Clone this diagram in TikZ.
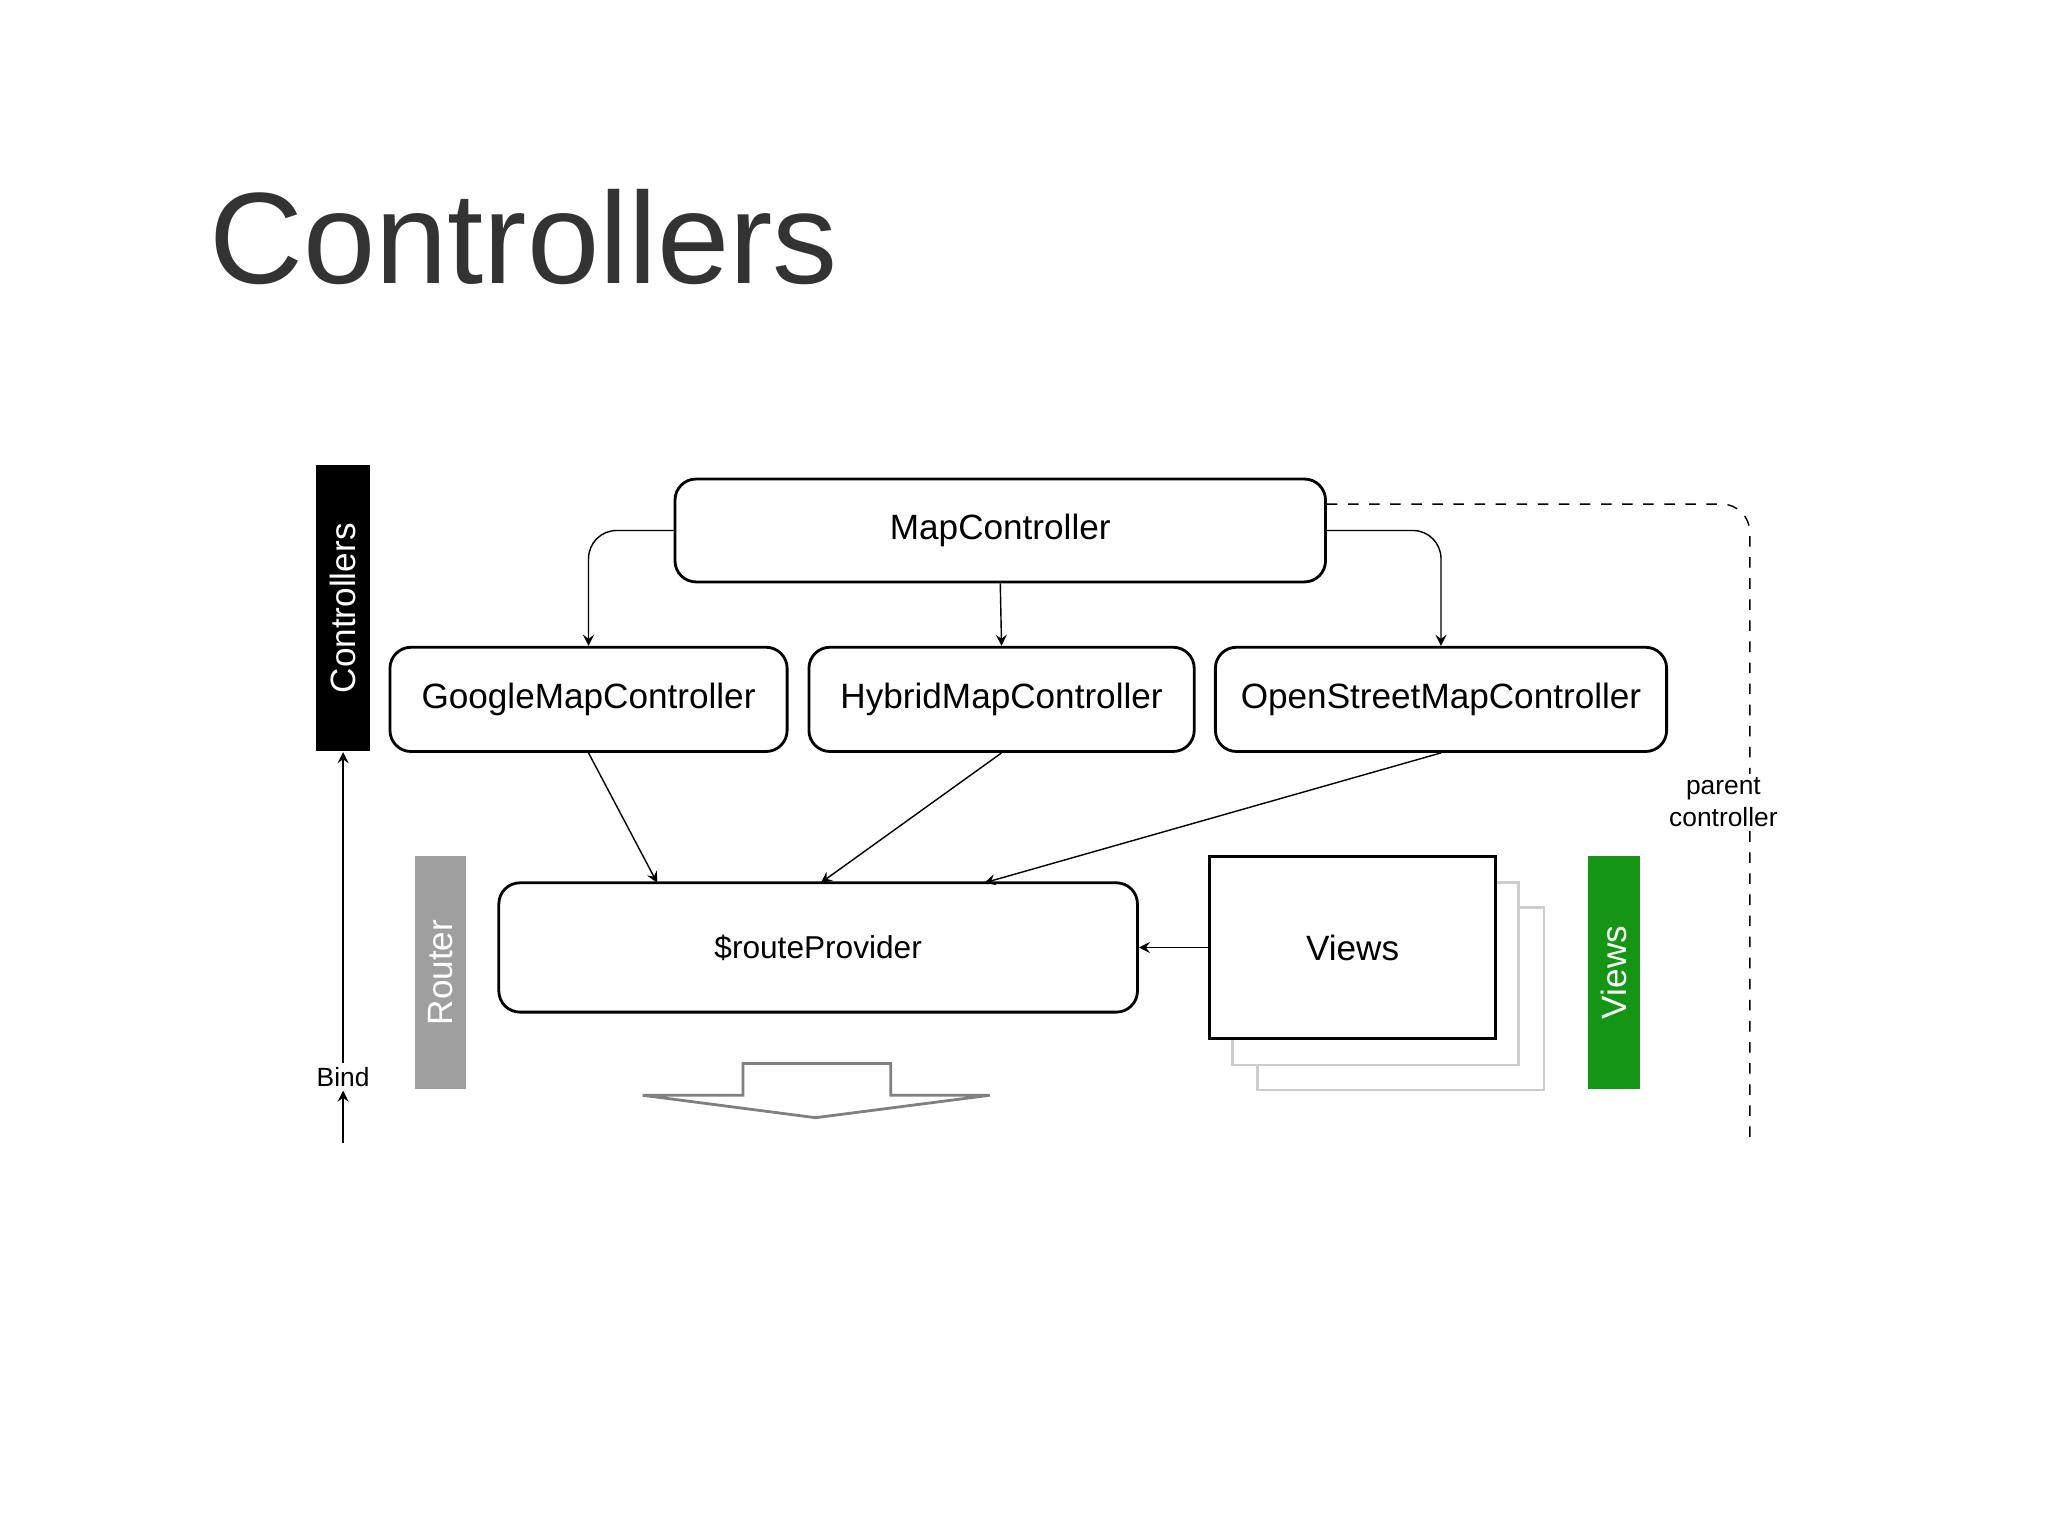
\documentclass[tikz,border=0pt]{standalone}
\usepackage{fontspec}
\setmainfont{Liberation Sans}
\usetikzlibrary{arrows,positioning}
\definecolor{titlegray}{RGB}{51,51,51}
\definecolor{viewgreen}{RGB}{20,150,20}
\newdimen\pxu \pxu=0.3755pt
\tikzset{
  box/.style={draw, rounded corners=6pt, thick, font=\fontsize{10}{12}\selectfont, inner sep=0pt},
  bar/.style={inner sep=0pt, text=white, font=\fontsize{10}{12}\selectfont, rotate=90},
  small/.style={font=\fontsize{7.5}{9}\selectfont, align=center}
}
\begin{document}
\begin{tikzpicture}[x=0.013196cm, y=-0.013196cm, >=stealth]
  \useasboundingbox (0,0) rectangle (1552,1163);
  % title
  \node (title)[anchor=base west, text=titlegray, font=\fontsize{37}{40}\selectfont, inner sep=0pt] at (158,215) {Controllers};
  % create the nodes
  \node (map)[box, minimum width=493\pxu, minimum height=78\pxu] at (758,402) {MapController};
  \node (google)[box, minimum width=301\pxu, minimum height=79\pxu] at (446,530) {GoogleMapController};
  \node (hybrid)[box, minimum width=292\pxu, minimum height=79\pxu] at (759,530) {HybridMapController};
  \node (osm)[box, minimum width=342\pxu, minimum height=79\pxu] at (1092,530) {OpenStreetMapController};
  \node (route)[box, minimum width=484\pxu, minimum height=98\pxu, font=\fontsize{9}{11}\selectfont] at (620,718) {\$routeProvider};
  \draw[gray!40, thick] (953,688) rectangle (1170,826);
  \draw[gray!40, thick, fill=white] (934,669) rectangle (1151,807);
  \node (views)[draw, thick, fill=white, minimum width=217\pxu, minimum height=138\pxu, inner sep=0pt, font=\fontsize{10}{12}\selectfont] at (1025,718) {Views};
  \node (ctrlbar)[bar, fill=black, minimum width=217\pxu, minimum height=41\pxu] at (260,461) {Controllers};
  \node (routerbar)[bar, fill=gray!75, minimum width=177\pxu, minimum height=39\pxu] at (334,737) {Router};
  \node (viewsbar)[bar, fill=viewgreen, minimum width=177\pxu, minimum height=39\pxu] at (1223,737) {Views};
  \coordinate (bindend) at (260,866);
  \coordinate (dashend) at (1326,866);
  \node (bind)[small, fill=white, inner sep=1pt] at (260,816) {Bind};
  % connect the nodes
  \draw[->, rounded corners=8pt] (map.west) -| (google.north);
  \draw[->, rounded corners=8pt] (map.east) -| (osm.north);
  \draw[->] (map.south) -- (hybrid.north);
  \draw[->] (google.south) -- (498,669);
  \draw[->] (hybrid.south) -- (622,669);
  \draw[->] (osm.south) -- (746,669);
  \draw[->] (views.west) -- (route.east);
  \draw[->] (bindend) -- (bind.south);
  \draw[->] (bind.north) -- (ctrlbar.west);
  \draw[dashed, rounded corners=8pt] (map.east |- 0,382) -| (dashend);
  \node (parent)[small, fill=white, inner sep=1pt] at (1306,608) {parent\\controller};
  % hollow arrow
  \draw[gray, thick, fill=white] (487,830) -- (563,830) -- (563,806) -- (675,806) -- (675,830) -- (750,830) -- (618,847) -- cycle;
\end{tikzpicture}
\end{document}
